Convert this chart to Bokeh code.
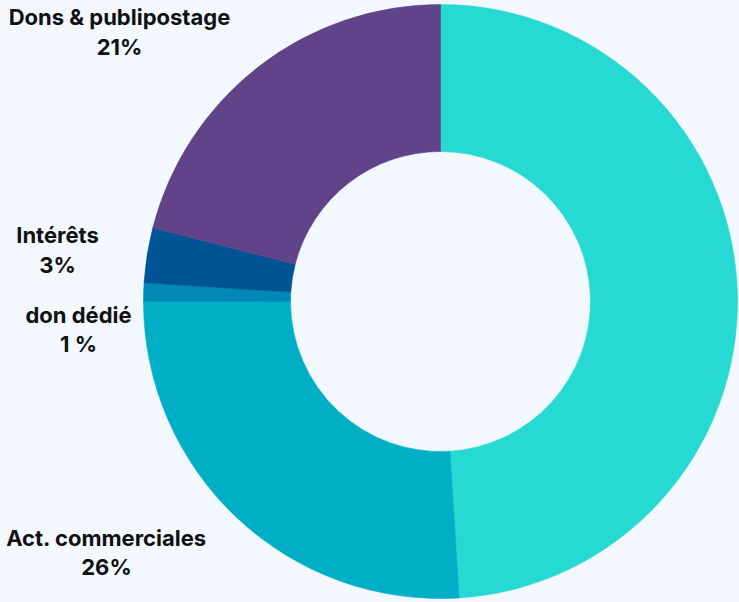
import numpy as np
from bokeh.plotting import figure
from bokeh.models import ColumnDataSource
from bokeh.core.properties import value
from bokeh.embed import file_html
from bokeh.resources import INLINE

# Data (clockwise from top)
categories = ["Autres", "Act. commerciales", "don dédié", "Intérêts", "Dons & publipostage"]
shares = [49, 26, 1, 3, 21]
pct_labels = ["", "26%", "1 %", "3%", "21%"]
colors = ["#26D9D2", "#00AFC5", "#0089B6", "#005494", "#604389"]

# Layout constants (pixels, page coordinates measured from top-left)
W, H = 739, 602
CX, CY = 440, 301
R_OUT, R_IN = 297, 150
# (centre x, centre y of name line, centre y of percent line)
label_pos = [None, (106, 537, 566), (78, 314, 343), (57, 234, 264), (119, 16, 46)]
BG = "#F3F8FE"

vals = np.array(shares, dtype=float)
frac = vals / vals.sum()
cum = np.concatenate([[0], np.cumsum(frac)])
start = np.pi / 2 - 2 * np.pi * cum[:-1]
end = np.pi / 2 - 2 * np.pi * cum[1:]

src = ColumnDataSource(dict(cat=categories, start=start, end=end, color=colors))

p = figure(width=W, height=H, x_range=(0, W), y_range=(0, H),
           output_backend="svg", toolbar_location=None, min_border=0,
           background_fill_color=BG, border_fill_color=BG)
p.axis.visible = False
p.grid.visible = False
p.outline_line_color = None

p.annular_wedge(x=CX, y=H - CY, inner_radius=R_IN, outer_radius=R_OUT,
                start_angle="start", end_angle="end", direction="clock",
                fill_color="color", line_color="color", line_width=0.6,
                source=src)

names_x, names_y, names_t, pct_x, pct_y, pct_t = [], [], [], [], [], []
for cat, pl, pos in zip(categories, pct_labels, label_pos):
    if pos is None:
        continue
    names_x.append(pos[0]); names_y.append(H - pos[1]); names_t.append(cat)
    pct_x.append(pos[0]); pct_y.append(H - pos[2]); pct_t.append(pl)

for xs, ys, ts in ((names_x, names_y, names_t), (pct_x, pct_y, pct_t)):
    p.text(x=xs, y=ys, text=ts, text_align="center", text_baseline="middle",
           text_font=value("Inter"), text_font_style="bold",
           text_font_size="22px", text_color="#111111")

html = file_html(p, INLINE)
html = html.replace("</head>", "<style>body{background:%s;}</style></head>" % BG, 1)
open("out.html", "w").write(html)
